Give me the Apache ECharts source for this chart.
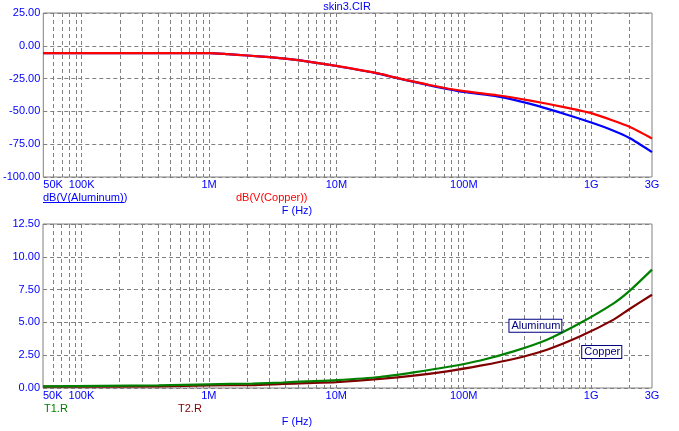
<!DOCTYPE html>
<html>
<head>
<meta charset="utf-8">
<script src="https://cdn.jsdelivr.net/npm/echarts@6/dist/echarts.min.js"></script>
<style>
html,body{margin:0;padding:0;background:#fff;}
#c{width:679px;height:431px;}
</style>
</head>
<body>
<div id="c"></div>
<script>
// ---- Data (frequency in Hz) ----
var xMinHz = 5e4;
var xMaxHz = 3e9;
var xLabelFreqs = [5e4, 1e5, 1e6, 1e7, 1e8, 1e9, 3e9];
var xLabelTexts = ['50K', '100K', '1M', '10M', '100M', '1G', '3G'];

// Top plot: dB(V(Copper)) (red)
var copperDbFreq = [5e4, 1e6, 1.4e6, 2e6, 3e6, 4.3e6, 6.2e6, 1e7, 2e7, 3e7, 5.5e7, 1e8, 1.83e8, 3.33e8, 6.1e8, 1e9, 1.48e9, 2e9, 3e9];
var copperDb     = [-5.6, -5.6, -6.4, -7.4, -8.7, -10.2, -12.2, -15.3, -20.5, -24.5, -30.1, -34.6, -37.7, -41.8, -46.7, -51.3, -56.9, -61.7, -70.6];

// Top plot: dB(V(Aluminum)) (blue)
var aluminumDbFreq = [5e4, 1e6, 1.4e6, 2e6, 3e6, 4.3e6, 6.2e6, 1e7, 2e7, 3e7, 5.5e7, 1e8, 1.83e8, 3.33e8, 6.1e8, 1e9, 1.48e9, 2e9, 3e9];
var aluminumDb     = [-5.6, -5.6, -6.4, -7.4, -8.7, -10.2, -12.2, -15.4, -20.6, -24.7, -30.3, -35.2, -38.5, -44.3, -51.8, -58.5, -64.5, -70.3, -81.0];

// Bottom plot: T1.R (Aluminum, green)
var t1Freq = [5e4, 4e5, 1e6, 2.2e6, 3.8e6, 5.8e6, 1e7, 2.2e7, 4.05e7, 7.4e7, 1.35e8, 2.46e8, 4.5e8, 8.2e8, 1.5e9, 2e9, 3e9];
var t1R    = [0.12, 0.2, 0.28, 0.34, 0.42, 0.5, 0.6, 0.84, 1.19, 1.6, 2.1, 2.79, 3.68, 4.95, 6.45, 7.4, 9.02];

// Bottom plot: T2.R (Copper, dark red)
var t2Freq = [5e4, 4e5, 1e6, 2.2e6, 3.8e6, 5.8e6, 1e7, 2.2e7, 4.05e7, 7.4e7, 1.35e8, 2.46e8, 4.5e8, 8.2e8, 1.5e9, 2e9, 3e9];
var t2R    = [0.10, 0.12, 0.2, 0.22, 0.31, 0.37, 0.45, 0.69, 0.94, 1.27, 1.70, 2.21, 2.92, 3.94, 5.21, 6.02, 7.11];

// Annotations
var noteTexts = ['Aluminum', 'Copper'];
var noteFreq = [3.65e8, 1.21e9];
var noteVal = [4.75, 2.75];

// ---- Helpers ----
var L = Math.log10;
function pts(f, v) { return f.map(function (x, i) { return [L(x), v[i]]; }); }
var gridVals = [];
for (var d = 4; d <= 9; d++) {
  for (var k = 1; k <= 9; k++) {
    var f = k * Math.pow(10, d);
    if (f > xMinHz * 1.001 && f < xMaxHz * 0.999) gridVals.push(L(f));
  }
}
var labelVals = xLabelFreqs.map(L);
function xFmt(v) {
  var best = 0, bd = 1e9;
  for (var i = 0; i < labelVals.length; i++) {
    var dd = Math.abs(labelVals[i] - v);
    if (dd < bd) { bd = dd; best = i; }
  }
  return xLabelTexts[best];
}
var FONT = 'Liberation Sans, Arial, sans-serif';
var GRIDC = '#808080';

function xAxis(gi) {
  return {
    type: 'value', gridIndex: gi, min: L(xMinHz), max: L(xMaxHz),
    axisLine: { show: false },
    axisTick: { show: false, customValues: gridVals },
    splitLine: { show: true, lineStyle: { color: GRIDC, type: [4, 3], width: 1 } },
    axisLabel: {
      customValues: labelVals, formatter: xFmt, color: '#0000ff',
      fontSize: 11, fontFamily: FONT, margin: 2, alignMinLabel: 'left'
    }
  };
}
function yAxis(gi, mn, mx, iv) {
  return {
    type: 'value', gridIndex: gi, min: mn, max: mx, interval: iv,
    axisLine: { show: false }, axisTick: { show: false },
    splitLine: { show: true, lineStyle: { color: GRIDC, type: [4, 3], width: 1 } },
    axisLabel: {
      color: '#0000ff', fontSize: 11, fontFamily: FONT, margin: 3,
      formatter: function (v) { return v.toFixed(2); }
    }
  };
}
function line(name, xi, fr, vals, color) {
  return {
    name: name, type: 'line', xAxisIndex: xi, yAxisIndex: xi, data: pts(fr, vals),
    showSymbol: false, smooth: 0.2,
    lineStyle: { color: color, width: 2.2 }, itemStyle: { color: color }
  };
}

var chart = echarts.init(document.getElementById('c'), null, { renderer: 'canvas' });
var t1 = line('T1.R', 1, t1Freq, t1R, '#008000');
t1.markPoint = {
  symbol: 'rect', symbolSize: 0, silent: true,
  label: {
    show: true, position: 'inside', color: '#000080', fontSize: 11, fontFamily: FONT,
    backgroundColor: '#ffffff', borderColor: '#000080', borderWidth: 1, padding: [1, 1, 0, 2],
    formatter: function (p) { return p.name; }
  },
  data: noteTexts.map(function (t, i) { return { name: t, coord: [L(noteFreq[i]), noteVal[i]] }; })
};
var option = {
  backgroundColor: '#ffffff',
  animation: false,
  grid: [
    { left: 43, top: 13, width: 609, height: 164, show: true, borderColor: GRIDC, borderWidth: 1, backgroundColor: 'transparent', containLabel: false },
    { left: 43, top: 224, width: 609, height: 164, show: true, borderColor: GRIDC, borderWidth: 1, backgroundColor: 'transparent', containLabel: false }
  ],
  xAxis: [xAxis(0), xAxis(1)],
  yAxis: [yAxis(0, -100, 25, 25), yAxis(1, 0, 12.5, 2.5)],
  series: [
    line('dB(V(Aluminum))', 0, aluminumDbFreq, aluminumDb, '#0000ff'),
    line('dB(V(Copper))', 0, copperDbFreq, copperDb, '#ff0000'),
    line('T2.R', 1, t2Freq, t2R, '#800000'),
    t1
  ],
  graphic: [
    { type: 'text', style: { x: 347, y: 7, text: 'skin3.CIR', fill: '#0000ff', font: '11px ' + FONT, align: 'center', verticalAlign: 'middle', textAlign: 'center', textVerticalAlign: 'middle' } },
    { type: 'text', style: { x: 43, y: 197.5, text: 'dB(V(Aluminum))', fill: '#0000ff', font: '11px ' + FONT, align: 'left', verticalAlign: 'middle', textAlign: 'left', textVerticalAlign: 'middle' } },
    { type: 'line', shape: { x1: 43, y1: 202.5, x2: 124, y2: 202.5 }, style: { stroke: '#0000ff', lineWidth: 1 } },
    { type: 'text', style: { x: 236, y: 197.5, text: 'dB(V(Copper))', fill: '#ff0000', font: '11px ' + FONT, align: 'left', verticalAlign: 'middle', textAlign: 'left', textVerticalAlign: 'middle' } },
    { type: 'text', style: { x: 297, y: 211, text: 'F (Hz)', fill: '#0000ff', font: '11px ' + FONT, align: 'center', verticalAlign: 'middle', textAlign: 'center', textVerticalAlign: 'middle' } },
    { type: 'text', style: { x: 44, y: 408.5, text: 'T1.R', fill: '#008000', font: '11px ' + FONT, align: 'left', verticalAlign: 'middle', textAlign: 'left', textVerticalAlign: 'middle' } },
    { type: 'text', style: { x: 178, y: 408.5, text: 'T2.R', fill: '#800000', font: '11px ' + FONT, align: 'left', verticalAlign: 'middle', textAlign: 'left', textVerticalAlign: 'middle' } },
    { type: 'text', style: { x: 297, y: 422, text: 'F (Hz)', fill: '#0000ff', font: '11px ' + FONT, align: 'center', verticalAlign: 'middle', textAlign: 'center', textVerticalAlign: 'middle' } }
  ]
};
chart.setOption(option);
</script>
</body>
</html>
